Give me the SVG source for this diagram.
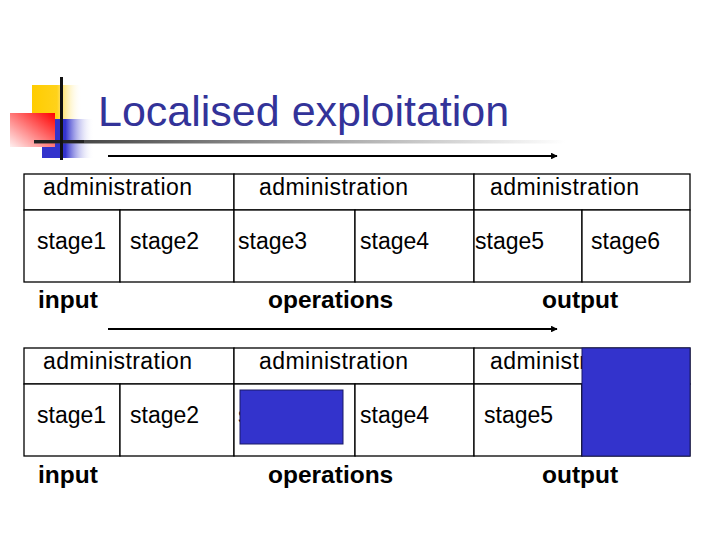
<svg xmlns="http://www.w3.org/2000/svg" width="720" height="540" viewBox="0 0 720 540">
<defs>
<linearGradient id="gY" x1="0" y1="0" x2="1" y2="0"><stop offset="0" stop-color="#ffcc00"/><stop offset="0.5" stop-color="#ffd21a"/><stop offset="1" stop-color="#ffffff" stop-opacity="0"/></linearGradient>
<linearGradient id="gB" x1="0" y1="0" x2="1" y2="0"><stop offset="0" stop-color="#3333cc"/><stop offset="0.45" stop-color="#3333cc"/><stop offset="1" stop-color="#ffffff" stop-opacity="0"/></linearGradient>
<linearGradient id="gR" x1="1" y1="0" x2="0" y2="1"><stop offset="0" stop-color="#ff0000"/><stop offset="1" stop-color="#fff0f0"/></linearGradient>
<linearGradient id="gL" x1="0" y1="0" x2="1" y2="0"><stop offset="0" stop-color="#333333"/><stop offset="0.4" stop-color="#888888"/><stop offset="1" stop-color="#ffffff"/></linearGradient>
<marker id="ah" viewBox="0 0 10 10" refX="9" refY="5" markerWidth="3" markerHeight="3" orient="auto"><path d="M0,0 L10,5 L0,10 z" fill="#000"/></marker>
</defs>
<style>
.cell{fill:#fff;stroke:#000;stroke-width:1.3}
.t{font-family:"Liberation Sans",Arial,sans-serif;font-size:23px;fill:#000}
.b{font-family:"Liberation Sans",Arial,sans-serif;font-size:24.5px;font-weight:bold;fill:#000}
.arr{stroke:#000;stroke-width:2.2;fill:none;marker-end:url(#ah)}
.blk{fill:#3333cc;stroke:#1a1a66;stroke-width:1}
</style>
<rect width="720" height="540" fill="#fff"/>
<g id="logo">
<rect x="32" y="85" width="50" height="34" fill="url(#gY)"/>
<rect x="42" y="119" width="52" height="39" fill="url(#gB)"/>
<rect x="10" y="113" width="45" height="34" fill="url(#gR)"/>
<rect x="34" y="140" width="531" height="3.5" fill="url(#gL)"/>
<rect x="34" y="140" width="50" height="3" fill="#222"/>
<rect x="60" y="77" width="3" height="83" fill="#111"/>
</g>
<g id="title"><text x="98" y="126" font-family="'Liberation Sans',Arial,sans-serif" font-size="43" fill="#333399">Localised exploitation</text></g>
<g id="connectors">
<line class="arr" x1="108" y1="156" x2="557" y2="156"/>
<line class="arr" x1="108" y1="329" x2="557" y2="329"/>
</g>
<g id="table1">
<rect class="cell" x="24" y="174" width="210" height="36"/>
<rect class="cell" x="234" y="174" width="240" height="36"/>
<rect class="cell" x="474" y="174" width="216" height="36"/>
<rect class="cell" x="24" y="210" width="96" height="72"/>
<rect class="cell" x="120" y="210" width="114" height="72"/>
<rect class="cell" x="234" y="210" width="121" height="72"/>
<rect class="cell" x="355" y="210" width="119" height="72"/>
<rect class="cell" x="474" y="210" width="108" height="72"/>
<rect class="cell" x="582" y="210" width="108" height="72"/>
<text class="t" x="43" y="195" textLength="149">administration</text>
<text class="t" x="259" y="195" textLength="149">administration</text>
<text class="t" x="490" y="195" textLength="149">administration</text>
<text class="t" x="37" y="249">stage1</text>
<text class="t" x="130" y="249">stage2</text>
<text class="t" x="238" y="249">stage3</text>
<text class="t" x="360" y="249">stage4</text>
<text class="t" x="475" y="249">stage5</text>
<text class="t" x="591" y="249">stage6</text>
<text class="b" x="38" y="308">input</text>
<text class="b" x="268" y="308">operations</text>
<text class="b" x="542" y="308">output</text>
</g>
<g id="table2">
<rect class="cell" x="24" y="348" width="210" height="36"/>
<rect class="cell" x="234" y="348" width="240" height="36"/>
<rect class="cell" x="474" y="348" width="216" height="36"/>
<rect class="cell" x="24" y="384" width="96" height="72"/>
<rect class="cell" x="120" y="384" width="114" height="72"/>
<rect class="cell" x="234" y="384" width="121" height="72"/>
<rect class="cell" x="355" y="384" width="119" height="72"/>
<rect class="cell" x="474" y="384" width="108" height="72"/>
<rect class="cell" x="582" y="384" width="108" height="72"/>
<text class="t" x="43" y="369" textLength="149">administration</text>
<text class="t" x="259" y="369" textLength="149">administration</text>
<text class="t" x="490" y="369" textLength="149">administration</text>
<text class="t" x="37" y="423">stage1</text>
<text class="t" x="130" y="423">stage2</text>
<text class="t" x="238" y="423">stage3</text>
<text class="t" x="360" y="423">stage4</text>
<text class="t" x="484" y="423">stage5</text>
<text class="b" x="38" y="483">input</text>
<text class="b" x="268" y="483">operations</text>
<text class="b" x="542" y="483">output</text>
</g>
<g id="cover1"><rect class="blk" x="240" y="390" width="103" height="54"/></g>
<g id="cover2"><rect class="blk" x="582" y="348" width="108" height="108"/></g>
</svg>
